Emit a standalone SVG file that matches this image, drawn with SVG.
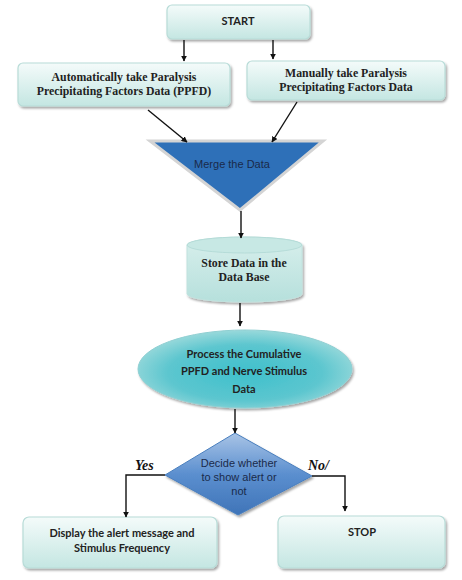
<svg xmlns="http://www.w3.org/2000/svg" width="462" height="580" viewBox="0 0 462 580">
<defs>
<linearGradient id="boxg" x1="0" y1="0" x2="0" y2="1">
<stop offset="0" stop-color="#f4fbfa"/>
<stop offset="1" stop-color="#c4e6e2"/>
</linearGradient>
<linearGradient id="cylg" x1="0" y1="0" x2="0" y2="1">
<stop offset="0" stop-color="#d8efec"/>
<stop offset="1" stop-color="#b6e0dc"/>
</linearGradient>
<radialGradient id="ellg" cx="0.5" cy="0.55" r="0.6">
<stop offset="0" stop-color="#3fc0cc"/>
<stop offset="0.6" stop-color="#5cc6cf"/>
<stop offset="1" stop-color="#a9dede"/>
</radialGradient>
<linearGradient id="diag" x1="0" y1="0" x2="0" y2="1">
<stop offset="0" stop-color="#a9c4e6"/>
<stop offset="0.5" stop-color="#5b8fcf"/>
<stop offset="1" stop-color="#3f74b8"/>
</linearGradient>
<filter id="sh" x="-10%" y="-10%" width="125%" height="140%">
<feDropShadow dx="1.5" dy="2" stdDeviation="1.2" flood-color="#000" flood-opacity="0.35"/>
</filter>
<marker id="ah" viewBox="0 0 10 10" refX="9" refY="5" markerWidth="6" markerHeight="6" orient="auto" markerUnits="userSpaceOnUse">
<path d="M0,0 L10,5 L0,10 z" fill="#111"/>
</marker>
</defs>
<style>
.box{fill:url(#boxg);stroke:#b8dcd8;stroke-width:1.2;filter:url(#sh)}
.ser{font-family:"Liberation Serif","DejaVu Serif",serif;font-weight:bold;font-size:11.8px;fill:#222;text-anchor:middle}
.cal{font-family:Lato,"Liberation Sans",sans-serif;font-weight:bold;font-size:11px;fill:#222;text-anchor:middle}
.ar{font-family:"Liberation Sans",Arial,sans-serif;font-size:11px;fill:#1a2a4a;text-anchor:middle}
.lab{font-family:"Liberation Serif","Times New Roman",serif;font-weight:bold;font-style:italic;font-size:14px;fill:#111}
.con{fill:none;stroke:#111;stroke-width:1.4;marker-end:url(#ah)}
</style>
<rect width="462" height="580" fill="#fff"/>
<g id="start">
<rect class="box" x="167" y="5" width="143" height="34" rx="5"/>
<text class="cal" x="238" y="25">START</text>
</g>
<g id="auto">
<rect class="box" x="18" y="63" width="212" height="43" rx="5"/>
<text class="ser" x="124" y="81">Automatically take Paralysis</text>
<text class="ser" x="124" y="95">Precipitating Factors Data (PPFD)</text>
</g>
<g id="manual">
<rect class="box" x="247" y="61" width="198" height="39" rx="5"/>
<text class="ser" x="346" y="77">Manually take Paralysis</text>
<text class="ser" x="346" y="91">Precipitating Factors Data</text>
</g>
<g id="merge">
<polygon points="150,141 323,141 240,210" fill="#2e70b8" stroke="#d4d4d4" stroke-width="3" stroke-linejoin="miter"/>
<text class="ar" x="232" y="168">Merge the Data</text>
</g>
<g id="store">
<path d="M187,245 A57.5,8 0 0 1 302,245 L302,294 A57.5,8 0 0 1 187,294 Z" fill="url(#cylg)" stroke="#c0e2de" stroke-width="1" filter="url(#sh)"/>
<ellipse cx="244.5" cy="245" rx="57.5" ry="8" fill="#c7e8e4" stroke="#b0d8d4" stroke-width="0.8"/>
<text class="ser" x="244" y="267">Store Data in the</text>
<text class="ser" x="244" y="281">Data Base</text>
</g>
<g id="process">
<ellipse cx="245" cy="369" rx="107" ry="39" fill="url(#ellg)" stroke="#8fcfd2" stroke-width="1" filter="url(#sh)"/>
<text class="cal" x="244" y="358">Process the Cumulative</text>
<text class="cal" x="244" y="375">PPFD and Nerve Stimulus</text>
<text class="cal" x="244" y="393">Data</text>
</g>
<g id="decide">
<polygon points="235,433 312,476 238,515 165,475" fill="url(#diag)" stroke="#4a7fbe" stroke-width="1" filter="url(#sh)"/>
<text class="ar" x="239" y="467">Decide whether</text>
<text class="ar" x="239" y="481">to show alert or</text>
<text class="ar" x="239" y="495">not</text>
</g>
<g id="display">
<rect class="box" x="23" y="517" width="194" height="51" rx="6"/>
<text class="cal" x="122" y="537">Display the alert message and</text>
<text class="cal" x="122" y="552">Stimulus Frequency</text>
</g>
<g id="stop">
<rect class="box" x="278" y="516" width="167" height="52" rx="6"/>
<text class="cal" x="362" y="536">STOP</text>
</g>
<g id="connectors">
<path class="con" d="M184,40 V61"/>
<path class="con" d="M273,40 V59"/>
<path class="con" d="M148,110 L187,142"/>
<path class="con" d="M297,102 L272,142"/>
<path class="con" d="M241,211 V238"/>
<path class="con" d="M240,303 V326"/>
<path class="con" d="M235,409 V433"/>
<path class="con" d="M165,475 H126 V517"/>
<path class="con" d="M312,476 H345 V511"/>
<text class="lab" x="135" y="470">Yes</text>
<text class="lab" x="308" y="470">No/</text>
</g>
</svg>
